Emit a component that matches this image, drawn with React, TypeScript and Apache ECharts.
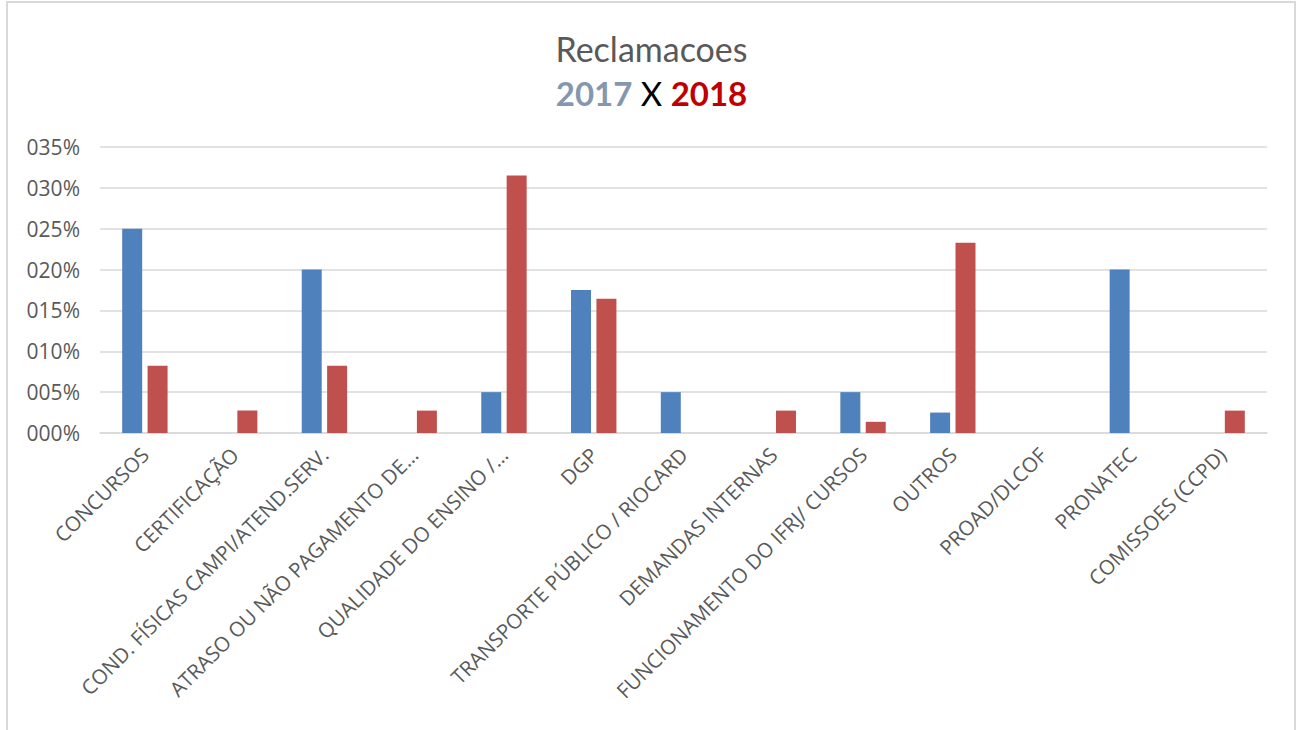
import React, { useEffect, useRef } from "react";
import * as echarts from "echarts";

const categories = [
  "CONCURSOS",
  "CERTIFICAÇÃO",
  "COND. FÍSICAS CAMPI/ATEND.SERV.",
  "ATRASO OU NÃO PAGAMENTO DE...",
  "QUALIDADE DO ENSINO /...",
  "DGP",
  "TRANSPORTE PÚBLICO / RIOCARD",
  "DEMANDAS INTERNAS",
  "FUNCIONAMENTO DO IFRJ/ CURSOS",
  "OUTROS",
  "PROAD/DLCOF",
  "PRONATEC",
  "COMISSOES (CCPD)",
];

const values2017 = [25, 0, 20, 0, 5, 17.5, 5, 0, 5, 2.5, 0, 20, 0];
const values2018 = [8.22, 2.74, 8.22, 2.74, 31.51, 16.44, 0, 2.74, 1.37, 23.29, 0, 0, 2.74];

const yTicks = { min: 0, max: 35, interval: 5 };

export default function App() {
  const ref = useRef<HTMLDivElement>(null);

  useEffect(() => {
    if (!ref.current) return;
    const chart = echarts.init(ref.current, null, { renderer: "svg" });
    chart.setOption({
      animation: false,
      backgroundColor: "#ffffff",
      graphic: [
        {
          type: "rect",
          shape: { x: 7, y: 2, width: 1288, height: 780 },
          style: { fill: "none", stroke: "#d9d9d9", lineWidth: 2 },
          silent: true,
        },
      ],
      title: [
        {
          text: "Reclamacoes",
          left: "center",
          top: 26,
          textStyle: {
            fontFamily: "Lato",
            fontSize: 34,
            fontWeight: "normal",
            color: "#595959",
          },
        },
        {
          text: "{b|2017}{x| X }{r|2018}",
          left: "center",
          top: 71,
          textStyle: {
            rich: {
              b: { fontFamily: "Lato", fontSize: 33, fontWeight: "bold", color: "#8497b0" },
              x: { fontFamily: "Lato", fontSize: 33, fontWeight: "normal", color: "#000000" },
              r: { fontFamily: "Lato", fontSize: 33, fontWeight: "bold", color: "#c00000" },
            },
          },
        },
      ],
      grid: { left: 100, right: 36, top: 147, bottom: 297, containLabel: false },
      xAxis: {
        type: "category",
        data: categories,
        axisLine: { show: true, lineStyle: { color: "#d9d9d9", width: 1.5 } },
        axisTick: { show: false },
        axisLabel: {
          interval: 0,
          rotate: 45,
          margin: 18,
          fontFamily: "Open Sans",
          fontSize: 20.5,
          color: "#595959",
        },
      },
      yAxis: {
        type: "value",
        min: yTicks.min,
        max: yTicks.max,
        interval: yTicks.interval,
        axisLine: { show: false },
        axisTick: { show: false },
        splitLine: { lineStyle: { color: "#d9d9d9", width: 1.5 } },
        axisLabel: {
          margin: 20,
          fontFamily: "Open Sans",
          fontSize: 21,
          color: "#595959",
          formatter: (v: number) => String(Math.round(v)).padStart(3, "0") + "%",
        },
      },
      series: [
        {
          name: "2017",
          type: "bar",
          data: values2017,
          barWidth: 20,
          barGap: "27%",
          itemStyle: { color: "#4f81bd" },
        },
        {
          name: "2018",
          type: "bar",
          data: values2018,
          barWidth: 20,
          barGap: "27%",
          itemStyle: { color: "#c0504d" },
        },
      ],
    });
    return () => chart.dispose();
  }, []);

  return (
    <div
      ref={ref}
      style={{ position: "fixed", left: 0, top: 0, width: 1303, height: 730 }}
    />
  );
}
